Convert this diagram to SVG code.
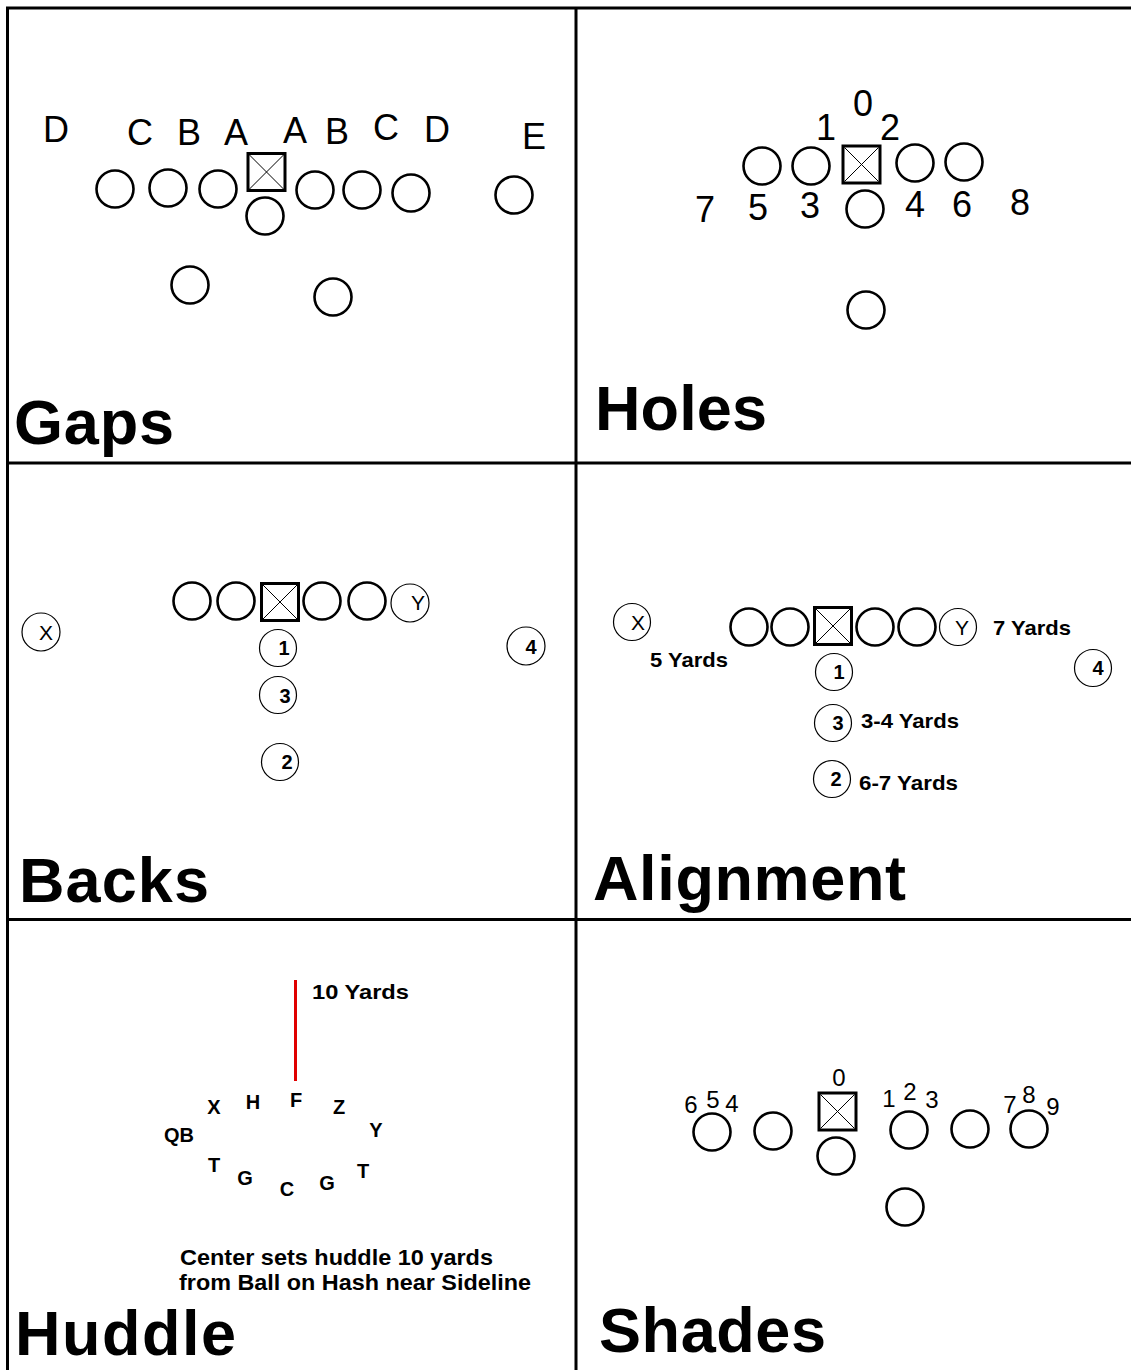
<svg xmlns="http://www.w3.org/2000/svg" width="1131" height="1370" viewBox="0 0 1131 1370">
<style>
.frame{stroke:#000;stroke-width:3;fill:none}
.p{fill:none;stroke:#000;stroke-width:2.6}
.t{fill:none;stroke:#000;stroke-width:1.2}
.box{fill:#fff;stroke:#000;stroke-width:3}
.dg{stroke:#000;stroke-width:1}
.lbl{font-family:"Liberation Sans",Arial,sans-serif;font-size:36px;fill:#000;text-anchor:middle}
.sh{font-family:"Liberation Sans",Arial,sans-serif;font-size:24px;fill:#000;text-anchor:middle}
.halo{paint-order:stroke;stroke:#fff;stroke-width:4}
.ci{font-family:"Liberation Sans",Arial,sans-serif;font-size:20px;font-weight:bold;fill:#000;text-anchor:middle}
.cl{font-family:"Liberation Sans",Arial,sans-serif;font-size:21px;fill:#000;text-anchor:middle}
.yd{font-family:"Liberation Sans",Arial,sans-serif;font-size:21px;font-weight:bold;fill:#000}
.hd{font-family:"Liberation Sans",Arial,sans-serif;font-size:20px;font-weight:bold;fill:#000;text-anchor:middle}
.note{font-family:"Liberation Sans",Arial,sans-serif;font-size:22px;font-weight:bold;fill:#000}
.title{font-family:"Liberation Sans",Arial,sans-serif;font-size:63px;font-weight:bold;fill:#000}
</style>
<defs>
<g id="ctr">
<rect x="-18.5" y="-18.5" width="37" height="37" class="box"/>
<line x1="-17" y1="-17" x2="17" y2="17" class="dg"/>
<line x1="17" y1="-17" x2="-17" y2="17" class="dg"/>
</g>
</defs>
<rect width="1131" height="1370" fill="#fff"/>
<g id="frame">
<line x1="6" y1="8" x2="1131" y2="8" class="frame"/>
<line x1="7.5" y1="7" x2="7.5" y2="1370" class="frame"/>
<line x1="576" y1="7" x2="576" y2="1370" class="frame"/>
<line x1="6" y1="463" x2="1131" y2="463" class="frame"/>
<line x1="6" y1="919.5" x2="1131" y2="919.5" class="frame"/>
</g>
<g id="connectors">
<line x1="295.5" y1="980" x2="295.5" y2="1081" stroke="#e00000" stroke-width="3"/>
</g>
<g id="gaps">
<text class="lbl" x="56" y="142">D</text>
<text class="lbl" x="140" y="145">C</text>
<text class="lbl" x="189" y="145">B</text>
<text class="lbl" x="236" y="145">A</text>
<text class="lbl" x="295" y="143">A</text>
<text class="lbl" x="337" y="144">B</text>
<text class="lbl" x="386" y="140">C</text>
<text class="lbl" x="437" y="142">D</text>
<text class="lbl" x="534" y="149">E</text>
<circle class="p" cx="115" cy="189" r="18.5"/>
<circle class="p" cx="168" cy="188" r="18.5"/>
<circle class="p" cx="218" cy="189" r="18.5"/>
<use href="#ctr" x="266.5" y="172"/>
<circle class="p" cx="265" cy="216" r="18.5"/>
<circle class="p" cx="315" cy="190" r="18.5"/>
<circle class="p" cx="362" cy="190" r="18.5"/>
<circle class="p" cx="411" cy="193" r="18.5"/>
<circle class="p" cx="514" cy="195" r="18.5"/>
<circle class="p" cx="190" cy="285" r="18.5"/>
<circle class="p" cx="333" cy="297" r="18.5"/>
<text class="title" x="14" y="444" textLength="160">Gaps</text>
</g>
<g id="holes">
<text class="lbl" x="863" y="116">0</text>
<text class="lbl" x="826" y="140">1</text>
<text class="lbl" x="890" y="140">2</text>
<text class="lbl" x="705" y="222">7</text>
<text class="lbl" x="758" y="220">5</text>
<text class="lbl" x="810" y="218">3</text>
<text class="lbl" x="915" y="217">4</text>
<text class="lbl" x="962" y="217">6</text>
<text class="lbl" x="1020" y="215">8</text>
<circle class="p" cx="762" cy="166" r="18.5"/>
<circle class="p" cx="811" cy="166" r="18.5"/>
<use href="#ctr" x="861.5" y="164.5"/>
<circle class="p" cx="915" cy="163" r="18.5"/>
<circle class="p" cx="964" cy="162" r="18.5"/>
<circle class="p" cx="865" cy="209" r="18.5"/>
<circle class="p" cx="866" cy="310" r="18.5"/>
<text class="title" x="595" y="430" textLength="172">Holes</text>
</g>
<g id="backs">
<circle class="p" cx="192" cy="601" r="18.5"/>
<circle class="p" cx="236" cy="601" r="18.5"/>
<use href="#ctr" x="280" y="602"/>
<circle class="p" cx="322" cy="601" r="18.5"/>
<circle class="p" cx="367" cy="601" r="18.5"/>
<circle class="t" cx="410" cy="603" r="19"/>
<text class="cl" x="418" y="610">Y</text>
<circle class="t" cx="41" cy="632" r="19"/>
<text class="cl" x="46" y="640">X</text>
<circle class="t" cx="278" cy="648" r="18.5"/>
<text class="ci" x="284" y="655">1</text>
<circle class="t" cx="278" cy="695" r="18.5"/>
<text class="ci" x="285" y="703">3</text>
<circle class="t" cx="280" cy="762" r="18.5"/>
<text class="ci" x="287" y="769">2</text>
<circle class="t" cx="526" cy="646" r="19"/>
<text class="ci" x="531" y="654">4</text>
<text class="title" x="19" y="902" textLength="190">Backs</text>
</g>
<g id="alignment">
<circle class="t" cx="632" cy="622" r="18.5"/>
<text class="cl" x="638" y="630">X</text>
<circle class="p" cx="749" cy="627" r="18.5"/>
<circle class="p" cx="790" cy="627" r="18.5"/>
<use href="#ctr" x="833" y="626"/>
<circle class="p" cx="875" cy="627" r="18.5"/>
<circle class="p" cx="917" cy="627" r="18.5"/>
<circle class="t" cx="958" cy="627" r="18.5"/>
<text class="cl" x="962" y="635">Y</text>
<text class="yd" x="993" y="635" textLength="78" lengthAdjust="spacingAndGlyphs">7 Yards</text>
<text class="yd" x="650" y="667" textLength="78" lengthAdjust="spacingAndGlyphs">5 Yards</text>
<circle class="t" cx="834" cy="672" r="18.5"/>
<text class="ci" x="839" y="679">1</text>
<circle class="t" cx="1093" cy="668" r="18.5"/>
<text class="ci" x="1098" y="675">4</text>
<circle class="t" cx="833" cy="723" r="18.5"/>
<text class="ci" x="838" y="730">3</text>
<text class="yd" x="861" y="728" textLength="98" lengthAdjust="spacingAndGlyphs">3-4 Yards</text>
<circle class="t" cx="832" cy="779" r="18.5"/>
<text class="ci" x="836" y="786">2</text>
<text class="yd" x="859" y="790" textLength="99" lengthAdjust="spacingAndGlyphs">6-7 Yards</text>
<text class="title" x="593" y="900" textLength="313">Alignment</text>
</g>
<g id="huddle">
<text class="yd" x="312" y="999" textLength="97" lengthAdjust="spacingAndGlyphs">10 Yards</text>
<text class="hd" x="214" y="1114">X</text>
<text class="hd" x="253" y="1109">H</text>
<text class="hd" x="296" y="1107">F</text>
<text class="hd" x="339" y="1114">Z</text>
<text class="hd" x="376" y="1137">Y</text>
<text class="hd" x="179" y="1142">QB</text>
<text class="hd" x="214" y="1172">T</text>
<text class="hd" x="245" y="1185">G</text>
<text class="hd" x="287" y="1196">C</text>
<text class="hd" x="327" y="1190">G</text>
<text class="hd" x="363" y="1178">T</text>
<text class="note" x="180" y="1265" textLength="313" lengthAdjust="spacingAndGlyphs">Center sets huddle 10 yards</text>
<text class="note" x="179" y="1290" textLength="352" lengthAdjust="spacingAndGlyphs">from Ball on Hash near Sideline</text>
<text class="title" x="15" y="1355" textLength="221">Huddle</text>
</g>
<g id="shades">
<circle class="p" cx="712" cy="1132" r="18.5"/>
<circle class="p" cx="773" cy="1131" r="18.5"/>
<use href="#ctr" x="837.5" y="1111.5"/>
<circle class="p" cx="836" cy="1156" r="18.5"/>
<circle class="p" cx="909" cy="1130" r="18.5"/>
<circle class="p" cx="970" cy="1129" r="18.5"/>
<circle class="p" cx="1029" cy="1129" r="18.5"/>
<circle class="p" cx="905" cy="1207" r="18.5"/>
<text class="sh" x="839" y="1086">0</text>
<text class="sh" x="691" y="1113">6</text>
<text class="sh halo" x="713" y="1108">5</text>
<text class="sh" x="732" y="1112">4</text>
<text class="sh" x="889" y="1107">1</text>
<text class="sh" x="910" y="1100">2</text>
<text class="sh" x="932" y="1108">3</text>
<text class="sh" x="1010" y="1113">7</text>
<text class="sh halo" x="1029" y="1103">8</text>
<text class="sh" x="1053" y="1115">9</text>
<text class="title" x="599" y="1352" textLength="227">Shades</text>
</g>
</svg>
